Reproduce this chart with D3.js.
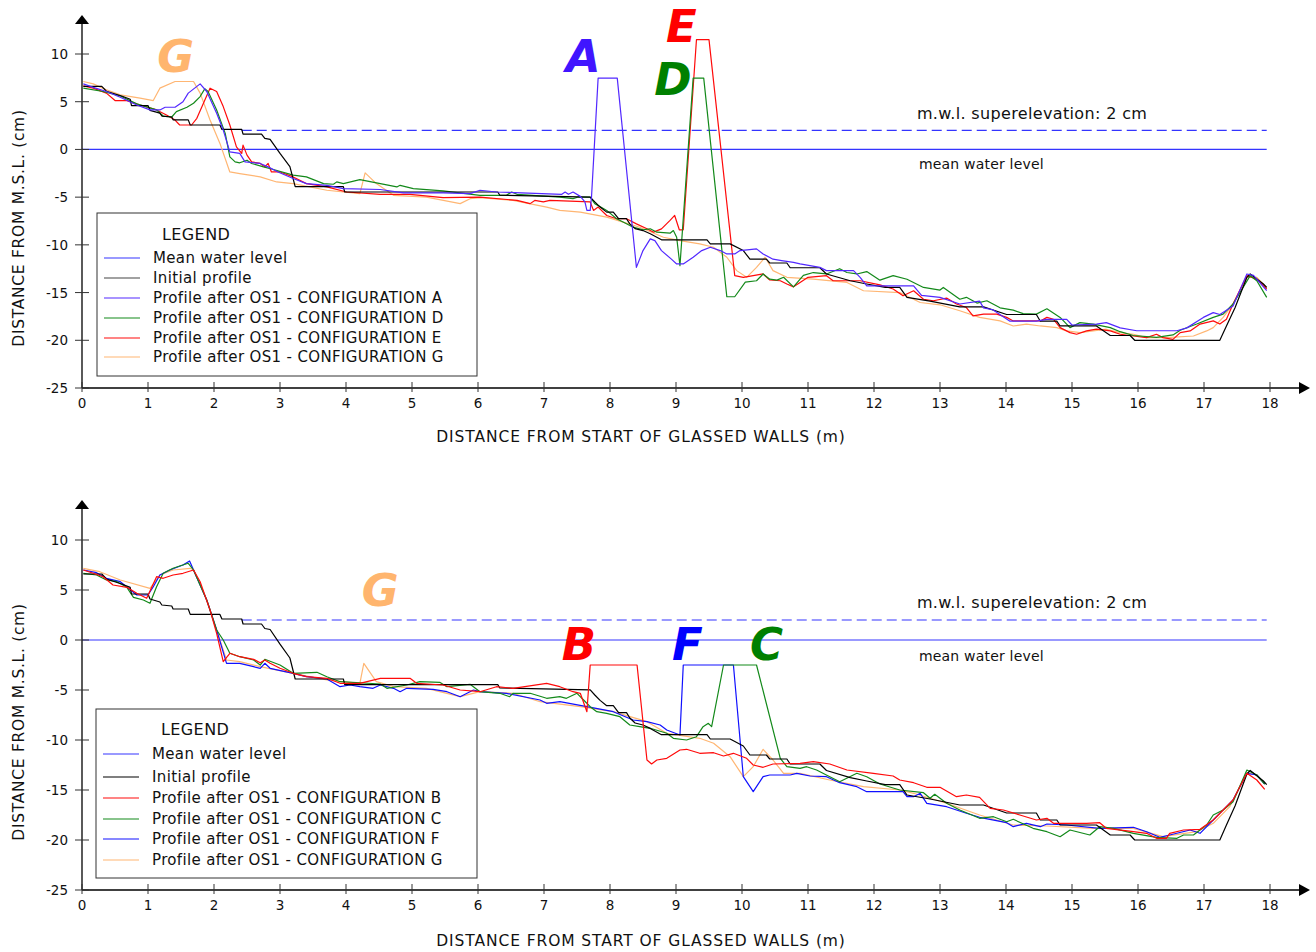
<!DOCTYPE html>
<html>
<head>
<meta charset="utf-8">
<script src="https://cdn.jsdelivr.net/npm/d3@7"></script>
<style>
  body { margin: 0; background: #fff; }
  svg { display: block; font-family: "DejaVu Sans", Verdana, sans-serif; }
</style>
</head>
<body>
<div id="chart"></div>
<script>
// axis ticks
const x_ticks = d3.range(0, 19);
const y_ticks = [10, 5, 0, -5, -10, -15, -20, -25];

const mwl = 0;            // mean water level (cm)
const superelevation = 2; // m.w.l. superelevation (cm)

// initial profile, same for both panels [x (m), y (cm)]
const initial_profile = [[0.02,6.6],[0.30,6.6],[0.37,6.1],[0.60,5.6],[0.73,5.26],[0.75,4.6],[1.0,4.6],[1.03,4.1],[1.18,3.8],[1.21,3.5],[1.36,3.4],[1.38,3.1],[1.61,3.1],[1.64,2.56],[2.09,2.56],[2.12,2.1],[2.42,2.1],[2.44,1.6],[2.72,1.6],[2.77,1.15],[2.85,1.05],[3.0,-0.42],[3.15,-1.8],[3.23,-3.9],[3.96,-3.9],[3.98,-4.46],[6.3,-4.46],[6.33,-4.8],[7.70,-4.99],[7.77,-5.5],[7.85,-6.04],[7.95,-6.57],[8.05,-6.57],[8.13,-7.26],[8.25,-7.26],[8.30,-7.8],[8.38,-8.3],[8.50,-8.5],[8.61,-8.84],[8.78,-9.47],[9.47,-9.47],[9.52,-9.9],[9.82,-9.9],[10.02,-10.6],[10.12,-11.5],[10.37,-11.5],[10.42,-11.9],[10.68,-11.9],[10.73,-12.4],[11.18,-12.4],[11.28,-13.05],[11.64,-13.76],[11.89,-14.1],[12.17,-14.46],[12.39,-14.46],[12.5,-15.5],[12.85,-15.9],[13.3,-16.5],[13.66,-16.5],[14.01,-17.3],[14.46,-17.3],[14.52,-18.0],[14.77,-18.0],[14.82,-18.5],[15.37,-18.5],[15.58,-19.5],[15.88,-19.5],[15.95,-20.0],[17.24,-20.0],[17.34,-18.5],[17.47,-16.6],[17.65,-13.4],[17.7,-13.05],[17.9,-14.1],[17.95,-14.46]];

// top panel: configurations A, D, E, G
const config_a = [[0.02,6.87],[0.17,6.5],[0.37,6.07],[0.58,5.47],[0.83,4.66],[1.03,4.14],[1.18,4.14],[1.26,4.42],[1.41,4.42],[1.53,5.0],[1.61,5.9],[1.79,6.87],[1.89,6.07],[2.04,3.8],[2.14,2.03],[2.24,-0.25],[2.39,-0.42],[2.47,-1.3],[2.70,-1.47],[2.82,-1.83],[2.97,-2.36],[3.2,-3.05],[3.4,-3.58],[3.71,-3.76],[3.96,-4.1],[4.52,-4.2],[4.87,-4.56],[5.47,-4.56],[5.88,-4.63],[6.03,-4.28],[6.28,-4.46],[7.27,-4.7],[7.32,-4.46],[7.37,-4.7],[7.44,-4.46],[7.55,-4.92],[7.62,-5.5],[7.65,-6.39],[7.70,-6.39],[7.72,-4.99],[7.82,7.47],[8.11,7.47],[8.40,-12.36],[8.50,-10.6],[8.61,-9.37],[8.68,-9.55],[8.78,-10.6],[8.93,-11.5],[9.01,-12.0],[9.11,-12.0],[9.26,-11.3],[9.39,-10.6],[9.52,-10.25],[9.67,-10.6],[9.77,-10.95],[9.89,-10.95],[9.97,-10.6],[10.22,-10.42],[10.32,-10.95],[10.47,-11.5],[10.6,-11.65],[10.78,-11.83],[10.88,-12.0],[11.18,-12.36],[11.28,-12.7],[11.69,-12.7],[11.79,-13.4],[11.89,-14.3],[12.6,-14.3],[12.72,-15.3],[13.0,-15.5],[13.3,-16.2],[13.6,-15.9],[13.66,-16.6],[13.8,-16.8],[14.06,-18.0],[14.46,-18.0],[14.62,-17.8],[14.92,-17.8],[15.0,-18.4],[15.37,-18.3],[15.52,-18.15],[15.73,-18.7],[15.98,-19.0],[16.59,-19.0],[16.74,-18.7],[16.99,-17.6],[17.14,-17.1],[17.24,-17.3],[17.44,-16.4],[17.65,-13.05],[17.75,-13.2],[17.95,-14.8]];

const config_d = [[0.02,6.42],[0.32,6.07],[0.58,5.6],[0.83,4.77],[1.13,4.14],[1.23,3.5],[1.36,3.4],[1.43,3.96],[1.59,4.42],[1.69,4.84],[1.79,5.54],[1.86,6.35],[1.91,6.07],[2.04,4.14],[2.17,1.68],[2.24,-0.78],[2.32,-1.3],[2.39,-1.4],[2.5,-1.13],[2.57,-1.47],[2.75,-1.83],[2.9,-2.1],[3.2,-2.7],[3.4,-2.88],[3.66,-3.58],[3.81,-3.65],[3.86,-3.4],[3.96,-3.58],[4.21,-3.16],[4.52,-3.58],[4.77,-3.93],[4.82,-3.76],[5.02,-4.1],[5.47,-4.35],[6.03,-4.81],[6.43,-4.81],[6.51,-4.46],[6.59,-4.7],[7.24,-4.99],[7.44,-5.16],[7.52,-4.99],[7.70,-4.99],[7.77,-5.68],[7.95,-6.39],[8.10,-7.26],[8.25,-7.79],[8.35,-8.15],[8.50,-8.42],[8.61,-8.32],[8.71,-8.67],[8.91,-8.78],[8.96,-8.5],[9.01,-9.2],[9.06,-12.18],[9.26,7.47],[9.42,7.47],[9.77,-15.44],[9.89,-15.44],[10.05,-13.9],[10.22,-13.76],[10.32,-13.05],[10.42,-13.6],[10.53,-13.7],[10.63,-13.4],[10.78,-14.4],[10.93,-13.2],[11.08,-12.9],[11.28,-13.05],[11.48,-12.5],[11.59,-12.9],[11.74,-13.05],[11.89,-12.8],[12.09,-13.7],[12.29,-13.23],[12.5,-13.6],[12.75,-14.46],[13.0,-14.74],[13.05,-14.46],[13.3,-15.7],[13.4,-15.5],[13.56,-16.1],[13.71,-15.86],[13.91,-16.6],[14.11,-16.84],[14.26,-17.2],[14.46,-17.26],[14.62,-16.7],[14.82,-17.6],[14.97,-18.67],[15.12,-18.15],[15.32,-18.3],[15.58,-18.67],[15.73,-19.1],[15.93,-19.5],[16.28,-19.7],[16.53,-19.44],[16.64,-18.95],[16.89,-18.3],[17.14,-17.6],[17.29,-17.26],[17.44,-16.2],[17.7,-13.23],[17.8,-13.76],[17.95,-15.5]];

const config_e = [[0.02,6.66],[0.17,6.42],[0.37,5.9],[0.5,5.12],[0.68,5.12],[0.88,4.66],[1.13,4.14],[1.28,3.6],[1.41,3.08],[1.48,2.56],[1.66,2.56],[1.74,3.26],[1.84,4.84],[1.94,6.42],[2.04,6.07],[2.14,4.49],[2.24,2.56],[2.34,0.27],[2.42,-0.42],[2.44,0.45],[2.50,-0.6],[2.57,-1.3],[2.70,-1.47],[2.77,-1.83],[2.82,-1.47],[2.87,-2.36],[3.0,-2.36],[3.2,-2.88],[3.4,-3.58],[3.71,-3.93],[4.01,-4.46],[4.52,-4.7],[4.97,-4.7],[5.47,-5.05],[6.03,-4.99],[6.59,-5.34],[6.79,-5.68],[6.86,-5.34],[6.99,-5.5],[7.09,-5.34],[7.70,-5.5],[7.75,-6.39],[7.82,-6.04],[7.95,-6.92],[8.10,-7.26],[8.25,-7.26],[8.40,-7.8],[8.56,-8.32],[8.66,-8.67],[8.78,-8.32],[8.91,-7.44],[8.98,-6.92],[9.05,-8.42],[9.11,-8.42],[9.31,11.5],[9.5,11.5],[9.89,-13.23],[10.02,-13.4],[10.17,-13.23],[10.32,-13.05],[10.42,-13.68],[10.58,-13.76],[10.68,-14.1],[10.78,-14.4],[10.88,-13.94],[11.0,-13.4],[11.28,-13.23],[11.38,-13.76],[11.79,-13.76],[12.09,-14.2],[12.29,-14.63],[12.44,-15.34],[12.6,-14.81],[12.75,-15.7],[12.9,-15.86],[13.1,-15.58],[13.25,-16.2],[13.4,-16.57],[13.5,-17.44],[13.66,-17.26],[13.86,-17.26],[14.01,-17.6],[14.11,-17.97],[14.52,-17.97],[14.62,-17.6],[14.72,-17.8],[14.82,-18.67],[14.97,-19.2],[15.07,-19.37],[15.22,-19.02],[15.37,-18.84],[15.58,-19.02],[15.73,-19.37],[15.93,-19.55],[16.13,-19.72],[16.28,-19.37],[16.38,-19.72],[16.53,-19.9],[16.64,-19.2],[16.79,-19.02],[16.94,-18.3],[17.14,-17.97],[17.24,-18.3],[17.34,-17.8],[17.44,-16.2],[17.65,-13.23],[17.8,-13.6],[17.95,-14.63]];

const config_g_top = [[0.02,7.12],[0.17,6.87],[0.37,6.24],[0.58,5.72],[0.88,5.37],[1.08,5.12],[1.18,6.42],[1.41,7.12],[1.69,7.12],[1.79,5.9],[1.94,3.08],[2.09,0.63],[2.24,-2.36],[2.39,-2.53],[2.70,-2.88],[2.95,-3.41],[3.2,-3.58],[3.71,-4.28],[4.21,-4.63],[4.29,-2.46],[4.46,-3.58],[4.72,-4.81],[5.22,-4.99],[5.73,-5.68],[5.88,-5.16],[6.03,-5.05],[6.53,-5.34],[7.04,-6.04],[7.24,-6.39],[7.55,-6.57],[7.95,-7.09],[8.2,-7.62],[8.45,-8.15],[8.81,-9.2],[9.06,-9.55],[9.36,-9.9],[9.57,-10.25],[9.77,-11.3],[9.92,-12.7],[10.07,-13.4],[10.22,-12.36],[10.35,-11.3],[10.47,-12.7],[10.68,-13.4],[11.08,-13.6],[11.59,-13.94],[11.84,-14.81],[12.39,-15.0],[12.7,-16.04],[13.0,-16.28],[13.3,-16.9],[13.6,-17.6],[13.91,-17.97],[14.11,-18.5],[14.31,-18.3],[14.52,-18.5],[14.77,-18.67],[14.92,-19.02],[15.12,-19.2],[15.32,-19.02],[15.52,-18.84],[15.73,-19.2],[15.93,-19.37],[16.13,-19.72],[16.43,-19.72],[16.84,-19.55],[17.04,-19.02],[17.14,-18.67],[17.29,-17.6],[17.44,-16.2],[17.65,-13.4],[17.8,-13.4],[17.95,-14.46]];

// bottom panel: configurations B, C, F, G
const config_b = [[0.02,7.0],[0.17,6.67],[0.32,6.33],[0.47,5.5],[0.68,5.27],[0.83,4.67],[0.98,4.17],[1.13,6.33],[1.23,6.17],[1.38,6.5],[1.53,6.67],[1.69,7.0],[1.79,5.83],[1.94,3.0],[2.04,0.67],[2.14,-2.17],[2.24,-1.33],[2.39,-1.67],[2.6,-1.93],[2.70,-2.27],[2.77,-2.0],[2.85,-2.33],[3.0,-2.83],[3.2,-3.33],[3.4,-3.67],[3.71,-3.83],[3.91,-4.33],[4.21,-4.33],[4.52,-3.83],[4.97,-3.83],[5.07,-4.33],[5.47,-4.5],[5.73,-5.0],[6.03,-5.17],[6.28,-4.67],[6.53,-4.83],[7.04,-4.33],[7.24,-4.67],[7.44,-5.17],[7.55,-5.33],[7.65,-7.17],[7.70,-2.5],[8.41,-2.5],[8.56,-12.0],[8.63,-12.4],[8.71,-12.0],[8.86,-11.83],[9.06,-11.0],[9.16,-10.93],[9.36,-11.33],[9.57,-11.27],[9.72,-11.6],[9.87,-11.33],[10.07,-11.83],[10.17,-12.5],[10.32,-12.73],[10.47,-12.4],[10.88,-12.33],[11.08,-12.17],[11.33,-12.4],[11.59,-13.0],[11.99,-13.33],[12.29,-13.6],[12.39,-14.0],[12.6,-14.27],[12.8,-14.73],[13.0,-14.73],[13.25,-15.67],[13.4,-15.5],[13.6,-15.73],[13.76,-16.83],[13.96,-17.0],[14.21,-17.5],[14.46,-18.0],[14.62,-17.83],[14.72,-18.33],[15.22,-18.33],[15.42,-18.27],[15.52,-18.83],[15.93,-19.17],[16.13,-19.33],[16.28,-19.83],[16.43,-19.83],[16.48,-19.33],[16.69,-19.0],[16.94,-18.93],[17.14,-18.0],[17.29,-17.0],[17.44,-16.0],[17.65,-13.33],[17.8,-14.0],[17.92,-14.93]];

const config_c = [[0.02,6.67],[0.22,6.5],[0.37,6.0],[0.53,5.83],[0.68,5.27],[0.78,4.27],[0.93,4.0],[1.03,3.67],[1.13,5.33],[1.23,6.67],[1.38,7.17],[1.48,7.4],[1.61,7.67],[1.69,7.0],[1.89,4.0],[2.04,1.0],[2.14,0.0],[2.24,-1.33],[2.39,-1.67],[2.6,-2.0],[2.70,-2.5],[2.77,-1.93],[3.0,-2.5],[3.2,-3.33],[3.56,-3.23],[3.71,-3.67],[3.91,-4.17],[4.52,-4.4],[4.62,-4.83],[4.92,-4.5],[5.12,-4.17],[5.42,-4.23],[5.53,-4.67],[5.88,-4.43],[6.03,-5.17],[6.33,-5.33],[6.48,-5.67],[6.53,-5.33],[6.79,-5.33],[7.04,-5.83],[7.24,-5.67],[7.34,-5.83],[7.5,-5.33],[7.6,-6.0],[7.70,-6.67],[7.8,-7.17],[7.95,-7.33],[8.15,-7.67],[8.30,-8.5],[8.45,-8.67],[8.61,-8.83],[8.86,-9.33],[8.96,-9.83],[9.16,-10.0],[9.31,-9.67],[9.41,-8.67],[9.49,-8.33],[9.54,-8.67],[9.72,-2.5],[10.22,-2.5],[10.58,-11.83],[10.68,-12.67],[10.88,-12.83],[10.98,-12.67],[11.13,-13.0],[11.33,-13.67],[11.48,-14.17],[11.74,-13.33],[11.89,-13.67],[12.09,-14.4],[12.39,-15.0],[12.75,-15.27],[12.85,-15.83],[12.92,-15.43],[13.1,-16.33],[13.3,-17.0],[13.6,-17.83],[13.81,-17.67],[14.01,-18.17],[14.11,-17.93],[14.41,-18.83],[14.62,-19.17],[14.82,-19.67],[14.97,-19.0],[15.27,-19.5],[15.42,-18.67],[15.63,-18.83],[15.93,-19.33],[16.28,-19.73],[16.59,-19.83],[16.69,-19.5],[16.84,-19.5],[17.04,-18.5],[17.14,-17.5],[17.29,-17.0],[17.44,-16.17],[17.65,-13.0],[17.8,-13.5],[17.92,-14.4]];

const config_f = [[0.02,7.0],[0.22,6.73],[0.37,6.17],[0.58,5.83],[0.83,4.5],[1.0,4.5],[1.08,5.33],[1.18,6.5],[1.33,7.0],[1.53,7.5],[1.63,7.9],[1.69,7.0],[1.89,4.0],[2.04,1.0],[2.19,-2.33],[2.39,-2.33],[2.6,-2.67],[2.70,-2.83],[2.77,-2.33],[2.85,-2.83],[3.2,-3.33],[3.4,-3.67],[3.71,-3.9],[3.91,-4.67],[4.06,-4.5],[4.21,-4.67],[4.41,-4.83],[4.52,-4.5],[4.72,-4.83],[4.82,-5.17],[4.92,-4.83],[5.32,-4.93],[5.53,-5.17],[5.73,-5.67],[5.93,-5.0],[6.03,-5.17],[6.43,-5.33],[6.94,-6.0],[7.04,-6.33],[7.24,-6.17],[7.65,-6.67],[8.05,-7.17],[8.35,-8.0],[8.56,-8.17],[8.76,-8.5],[8.86,-9.0],[9.06,-9.5],[9.11,-2.5],[9.87,-2.5],[10.02,-13.67],[10.17,-15.17],[10.32,-13.67],[10.42,-13.5],[10.73,-13.5],[10.83,-13.33],[11.03,-13.6],[11.28,-13.67],[11.48,-14.27],[11.74,-14.67],[11.89,-15.17],[12.24,-15.17],[12.44,-15.17],[12.5,-15.67],[12.6,-15.67],[12.7,-15.33],[12.8,-16.33],[13.1,-16.67],[13.4,-17.33],[13.6,-17.73],[14.01,-18.27],[14.11,-18.67],[14.31,-18.33],[14.52,-18.67],[14.62,-18.4],[14.92,-18.5],[15.42,-18.83],[15.93,-18.73],[16.13,-19.17],[16.33,-19.73],[16.48,-19.5],[16.79,-19.0],[16.94,-19.33],[17.14,-18.0],[17.34,-16.67],[17.44,-16.0],[17.65,-13.33],[17.8,-13.5],[17.92,-14.4]];

const config_g_bottom = [[0.02,7.17],[0.27,6.83],[0.58,6.0],[1.03,5.17],[1.18,6.5],[1.38,7.0],[1.64,7.17],[1.69,7.0],[1.89,4.0],[2.04,1.0],[2.19,-2.0],[2.39,-2.17],[2.70,-2.67],[3.2,-3.33],[3.71,-4.0],[4.21,-4.33],[4.27,-2.33],[4.46,-4.17],[4.72,-4.67],[5.22,-4.83],[5.73,-5.67],[6.03,-5.17],[6.53,-5.33],[6.94,-6.17],[7.55,-6.67],[8.05,-7.17],[8.56,-8.17],[8.86,-9.33],[9.36,-9.83],[9.57,-10.33],[9.82,-11.67],[10.02,-13.67],[10.17,-12.67],[10.32,-10.93],[10.47,-12.0],[10.63,-13.33],[10.88,-13.33],[11.33,-14.0],[11.84,-14.67],[12.39,-15.0],[12.6,-15.33],[13.1,-16.33],[13.6,-17.5],[14.11,-18.5],[14.62,-18.6],[15.32,-18.83],[15.93,-18.83],[16.38,-19.67],[16.89,-19.17],[17.14,-18.33],[17.39,-16.67],[17.65,-13.27],[17.8,-13.5],[17.92,-14.4]];

const colors = {
    mwl: '#3434ff',
    initial: '#000000',
    a: '#5228ff',
    d: '#13891a',
    e: '#ff0a0a',
    g: '#ffb673',
    b: '#ff0a0a',
    c: '#13891a',
    f: '#1010ff'
};

const panels = [
    {
        top: 15, y0: 388, y1: 54, title_dy: 54,
        series: [
            { name: 'Profile after OS1 - CONFIGURATION G', data: config_g_top, color: colors.g },
            { name: 'Profile after OS1 - CONFIGURATION E', data: config_e, color: colors.e },
            { name: 'Profile after OS1 - CONFIGURATION D', data: config_d, color: colors.d },
            { name: 'Initial profile', data: initial_profile, color: colors.initial },
            { name: 'Profile after OS1 - CONFIGURATION A', data: config_a, color: colors.a }
        ],
        legend: ['Mean water level', 'Initial profile', 'Profile after OS1 - CONFIGURATION A',
            'Profile after OS1 - CONFIGURATION D', 'Profile after OS1 - CONFIGURATION E',
            'Profile after OS1 - CONFIGURATION G'],
        legend_colors: [colors.mwl, '#444', colors.a, colors.d, colors.e, colors.g],
        legend_box: { x: 97, y: 213, w: 380, h: 163, title_y: 240, rows: [258, 278, 298, 318, 338, 357] },
        letters: [
            { t: 'G', x: 1.14, y: 8.14, color: '#ffb56e' },
            { t: 'A', x: 7.33, y: 8.14, color: '#4015ff' },
            { t: 'E', x: 8.85, y: 11.3, color: '#ff0000' },
            { t: 'D', x: 8.67, y: 5.72, color: '#008000' }
        ]
    },
    {
        top: 500, y0: 890, y1: 540, title_dy: 56,
        series: [
            { name: 'Profile after OS1 - CONFIGURATION G', data: config_g_bottom, color: colors.g },
            { name: 'Profile after OS1 - CONFIGURATION F', data: config_f, color: colors.f },
            { name: 'Profile after OS1 - CONFIGURATION C', data: config_c, color: colors.c },
            { name: 'Initial profile', data: initial_profile, color: colors.initial },
            { name: 'Profile after OS1 - CONFIGURATION B', data: config_b, color: colors.b }
        ],
        legend: ['Mean water level', 'Initial profile', 'Profile after OS1 - CONFIGURATION B',
            'Profile after OS1 - CONFIGURATION C', 'Profile after OS1 - CONFIGURATION F',
            'Profile after OS1 - CONFIGURATION G'],
        legend_colors: [colors.mwl, colors.initial, colors.b, colors.c, colors.f, colors.g],
        legend_box: { x: 96, y: 709, w: 381, h: 169, title_y: 735, rows: [754, 777, 798, 819, 839, 860] },
        letters: [
            { t: 'G', x: 4.24, y: 3.4, color: '#ffb56e' },
            { t: 'B', x: 7.27, y: -2.0, color: '#ff0000' },
            { t: 'F', x: 8.94, y: -2.0, color: '#0000ff' },
            { t: 'C', x: 10.12, y: -2.0, color: '#008000' }
        ]
    }
];

const chart_width = 1316;
const chart_height = 952;

const svg = d3.select('#chart')
    .append('svg')
    .attr('width', chart_width)
    .attr('height', chart_height);

const x_scale = d3.scaleLinear()
    .domain([0, 18])
    .range([82, 1270]);

panels.forEach(p => {
    const y_scale = d3.scaleLinear()
        .domain([-25, 10])
        .range([p.y0, p.y1]);

    const g = svg.append('g');
    const axis_y = y_scale(-25);

    // water levels
    g.append('line')
        .attr('x1', x_scale(0)).attr('x2', x_scale(17.95))
        .attr('y1', y_scale(mwl)).attr('y2', y_scale(mwl))
        .attr('stroke', colors.mwl).attr('stroke-width', 1.2);
    g.append('line')
        .attr('x1', x_scale(2.42)).attr('x2', x_scale(17.95))
        .attr('y1', y_scale(superelevation)).attr('y2', y_scale(superelevation))
        .attr('stroke', colors.mwl).attr('stroke-width', 1.2)
        .attr('stroke-dasharray', '10,5');

    g.append('text')
        .attr('x', x_scale(12.65)).attr('y', y_scale(3.2))
        .attr('font-size', 16).attr('letter-spacing', 0.35).attr('fill', '#111')
        .text('m.w.l. superelevation: 2 cm');
    g.append('text')
        .attr('x', x_scale(12.68)).attr('y', y_scale(-2.05))
        .attr('font-size', 14).attr('letter-spacing', 0.2).attr('fill', '#111')
        .text('mean water level');

    // profiles
    const line = d3.line()
        .x(d => x_scale(d[0]))
        .y(d => y_scale(d[1]));

    g.selectAll('path.profile')
        .data(p.series)
        .enter()
        .append('path')
        .attr('class', 'profile')
        .attr('d', d => line(d.data))
        .attr('fill', 'none')
        .attr('stroke', d => d.color)
        .attr('stroke-width', 1.2)
        .attr('stroke-linejoin', 'round');

    // big configuration letters
    g.selectAll('text.letter')
        .data(p.letters)
        .enter()
        .append('text')
        .attr('class', 'letter')
        .attr('x', d => x_scale(d.x))
        .attr('y', d => y_scale(d.y))
        .attr('font-size', 45)
        .attr('font-weight', 'bold')
        .attr('font-style', 'italic')
        .attr('fill', d => d.color)
        .text(d => d.t);

    // axes
    g.append('line')
        .attr('x1', x_scale(0)).attr('x2', 1300)
        .attr('y1', axis_y).attr('y2', axis_y)
        .attr('stroke', '#000').attr('stroke-width', 1.3);
    g.append('path')
        .attr('d', `M1310,${axis_y} L1299,${axis_y - 6} L1299,${axis_y + 6} Z`)
        .attr('fill', '#000');
    g.append('line')
        .attr('x1', x_scale(0)).attr('x2', x_scale(0))
        .attr('y1', axis_y).attr('y2', p.top + 8)
        .attr('stroke', '#000').attr('stroke-width', 1.3);
    g.append('path')
        .attr('d', `M${x_scale(0)},${p.top} L${x_scale(0) - 7},${p.top + 9} L${x_scale(0) + 7},${p.top + 9} Z`)
        .attr('fill', '#000');

    g.selectAll('line.xtick')
        .data(x_ticks)
        .enter()
        .append('line')
        .attr('class', 'xtick')
        .attr('x1', d => x_scale(d)).attr('x2', d => x_scale(d))
        .attr('y1', axis_y - 6).attr('y2', axis_y + 4)
        .attr('stroke', '#333').attr('stroke-width', 1);
    g.selectAll('text.xtick')
        .data(x_ticks)
        .enter()
        .append('text')
        .attr('class', 'xtick')
        .attr('x', d => x_scale(d))
        .attr('y', axis_y + 20)
        .attr('text-anchor', 'middle')
        .attr('font-size', 13.5)
        .attr('fill', '#111')
        .text(d => d);

    g.selectAll('line.ytick')
        .data(y_ticks)
        .enter()
        .append('line')
        .attr('class', 'ytick')
        .attr('x1', x_scale(0) - 7).attr('x2', x_scale(0) + 7)
        .attr('y1', d => y_scale(d)).attr('y2', d => y_scale(d))
        .attr('stroke', '#333').attr('stroke-width', 1);
    g.selectAll('text.ytick')
        .data(y_ticks)
        .enter()
        .append('text')
        .attr('class', 'ytick')
        .attr('x', 68)
        .attr('y', d => y_scale(d) + 5)
        .attr('text-anchor', 'end')
        .attr('font-size', 13.5)
        .attr('fill', '#111')
        .text(d => d);

    // axis titles
    g.append('text')
        .attr('x', 641).attr('y', axis_y + p.title_dy)
        .attr('text-anchor', 'middle')
        .attr('font-size', 15.5).attr('letter-spacing', 0.9).attr('fill', '#111')
        .text('DISTANCE FROM START OF GLASSED WALLS (m)');
    g.append('text')
        .attr('transform', `translate(24,${(p.y0 + p.y1) / 2 + 7}) rotate(-90)`)
        .attr('text-anchor', 'middle')
        .attr('font-size', 15.5).attr('letter-spacing', 0.7).attr('fill', '#111')
        .text('DISTANCE FROM M.S.L. (cm)');

    // legend
    const lb = p.legend_box;
    g.append('rect')
        .attr('x', lb.x).attr('y', lb.y)
        .attr('width', lb.w).attr('height', lb.h)
        .attr('fill', '#fff').attr('stroke', '#333').attr('stroke-width', 1);
    g.append('text')
        .attr('x', lb.x + 65).attr('y', lb.title_y)
        .attr('font-size', 16).attr('letter-spacing', 0.4).attr('fill', '#111')
        .text('LEGEND');
    p.legend.forEach((name, i) => {
        g.append('line')
            .attr('x1', lb.x + 7).attr('x2', lb.x + 43)
            .attr('y1', lb.rows[i]).attr('y2', lb.rows[i])
            .attr('stroke', p.legend_colors[i]).attr('stroke-width', 1.2);
        g.append('text')
            .attr('x', lb.x + 56).attr('y', lb.rows[i] + 5)
            .attr('font-size', 15).attr('letter-spacing', 0.35).attr('fill', '#111')
            .text(name);
    });
});
</script>
</body>
</html>
